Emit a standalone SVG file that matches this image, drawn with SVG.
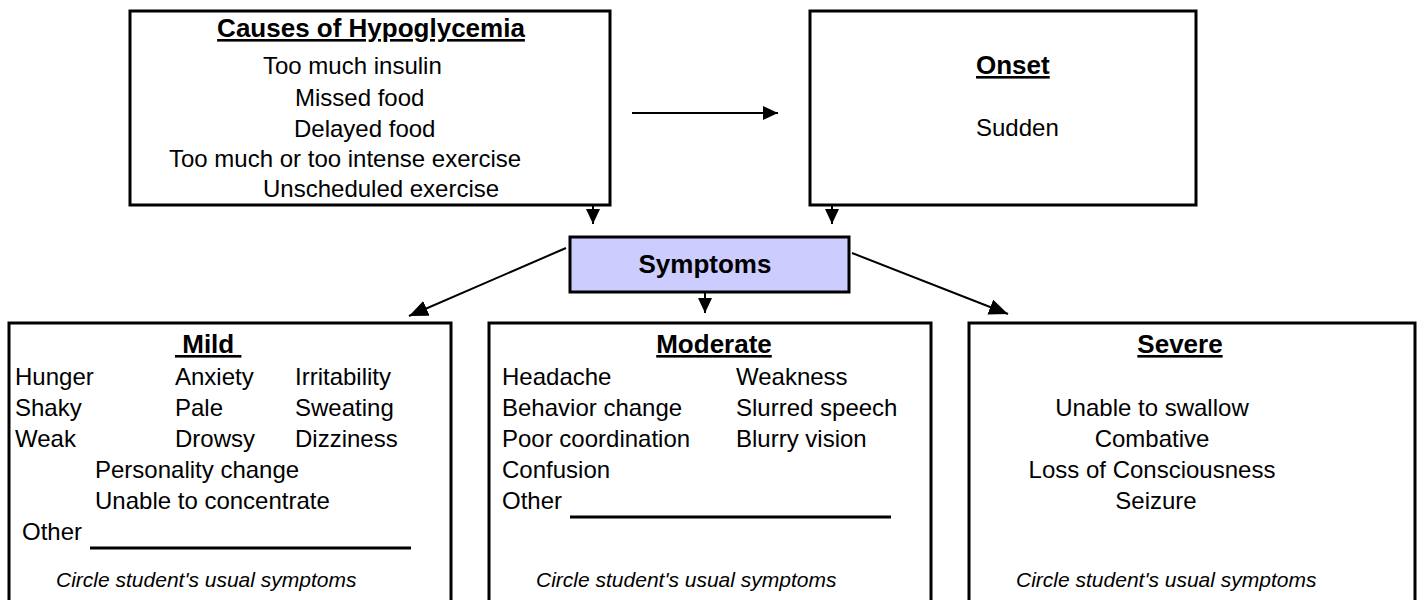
<svg xmlns="http://www.w3.org/2000/svg" width="1419" height="600" viewBox="0 0 1419 600">
<style>
  text { font-family: "Liberation Sans", Arial, sans-serif; fill: #000; }
  .box { fill: #fff; stroke: #000; stroke-width: 3; }
  .sym { fill: #CCCCFF; stroke: #000; stroke-width: 3; }
  .title { font-size: 26px; font-weight: bold; text-decoration: underline; }
  .hdr { font-size: 26px; font-weight: bold; }
  .body { font-size: 24px; }
  .note { font-size: 21px; font-style: italic; }
  .conn { stroke: #000; stroke-width: 2; fill: none; }
  .blank { stroke: #000; stroke-width: 3; }
</style>
<defs>
  <marker id="arrow" markerUnits="userSpaceOnUse" markerWidth="16" markerHeight="16" viewBox="0 0 16 16" refX="15" refY="8" orient="auto">
    <path d="M0,1 L15,8 L0,15 Z" fill="#000"/>
  </marker>
  <marker id="arrowL" markerUnits="userSpaceOnUse" markerWidth="20" markerHeight="18" viewBox="0 0 20 18" refX="19" refY="9" orient="auto">
    <path d="M0,1 L19,9 L0,17 Z" fill="#000"/>
  </marker>
</defs>

<g id="connectors">
  <line class="conn" x1="632" y1="113" x2="778" y2="113" marker-end="url(#arrow)"/>
  <line class="conn" x1="593" y1="205" x2="593" y2="224" marker-end="url(#arrow)"/>
  <line class="conn" x1="832" y1="205" x2="832" y2="224" marker-end="url(#arrow)"/>
  <line class="conn" x1="705" y1="292" x2="705" y2="313" marker-end="url(#arrow)"/>
  <line class="conn" x1="566" y1="248" x2="409" y2="316" marker-end="url(#arrowL)"/>
  <line class="conn" x1="852" y1="253" x2="1008" y2="314" marker-end="url(#arrowL)"/>
</g>

<g id="causes">
  <rect class="box" x="130" y="11" width="480" height="194"/>
  <text class="title" x="371" y="37" text-anchor="middle">Causes of Hypoglycemia</text>
  <text class="body" x="263" y="74">Too much insulin</text>
  <text class="body" x="295" y="106">Missed food</text>
  <text class="body" x="294" y="137">Delayed food</text>
  <text class="body" x="169" y="167">Too much or too intense exercise</text>
  <text class="body" x="263" y="197">Unscheduled exercise</text>
</g>

<g id="onset">
  <rect class="box" x="810" y="11" width="386" height="194"/>
  <text class="title" x="976" y="74">Onset</text>
  <text class="body" x="976" y="136">Sudden</text>
</g>

<g id="symptoms">
  <rect class="sym" x="570" y="237" width="279" height="55"/>
  <text class="hdr" x="705" y="273" text-anchor="middle">Symptoms</text>
</g>

<g id="mild">
  <rect class="box" x="9" y="323" width="442" height="280"/>
  <text class="title" x="175" y="353" xml:space="preserve"> Mild </text>
  <text class="body" x="15" y="385">Hunger</text>
  <text class="body" x="175" y="385">Anxiety</text>
  <text class="body" x="295" y="385">Irritability</text>
  <text class="body" x="15" y="416">Shaky</text>
  <text class="body" x="175" y="416">Pale</text>
  <text class="body" x="295" y="416">Sweating</text>
  <text class="body" x="15" y="447">Weak</text>
  <text class="body" x="175" y="447">Drowsy</text>
  <text class="body" x="295" y="447">Dizziness</text>
  <text class="body" x="95" y="478">Personality change</text>
  <text class="body" x="95" y="509">Unable to concentrate</text>
  <text class="body" x="22" y="540">Other</text>
  <line class="blank" x1="90" y1="548" x2="411" y2="548"/>
  <text class="note" x="56" y="587">Circle student's usual symptoms</text>
</g>

<g id="moderate">
  <rect class="box" x="489" y="323" width="442" height="280"/>
  <text class="title" x="714" y="353" text-anchor="middle">Moderate</text>
  <text class="body" x="502" y="385">Headache</text>
  <text class="body" x="736" y="385">Weakness</text>
  <text class="body" x="502" y="416">Behavior change</text>
  <text class="body" x="736" y="416">Slurred speech</text>
  <text class="body" x="502" y="447">Poor coordination</text>
  <text class="body" x="736" y="447">Blurry vision</text>
  <text class="body" x="502" y="478">Confusion</text>
  <text class="body" x="502" y="509">Other</text>
  <line class="blank" x1="570" y1="517" x2="891" y2="517"/>
  <text class="note" x="536" y="587">Circle student's usual symptoms</text>
</g>

<g id="severe">
  <rect class="box" x="969" y="323" width="446" height="280"/>
  <text class="title" x="1180" y="353" text-anchor="middle">Severe</text>
  <text class="body" x="1152" y="416" text-anchor="middle">Unable to swallow</text>
  <text class="body" x="1152" y="447" text-anchor="middle">Combative</text>
  <text class="body" x="1152" y="478" text-anchor="middle">Loss of Consciousness</text>
  <text class="body" x="1156" y="509" text-anchor="middle">Seizure</text>
  <text class="note" x="1016" y="587">Circle student's usual symptoms</text>
</g>
</svg>
